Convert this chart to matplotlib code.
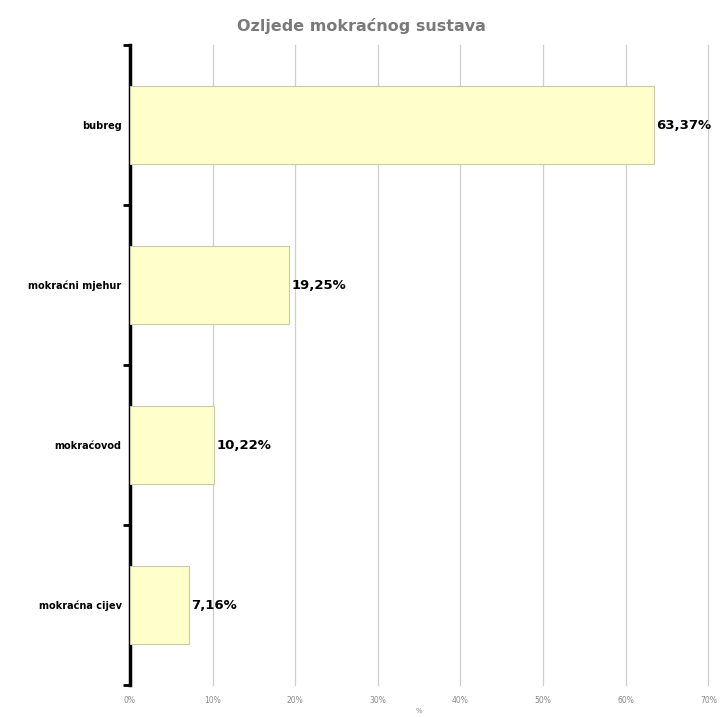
import matplotlib.pyplot as plt
import numpy as np

# podaci
kategorije = ["bubreg", "mokraćni mjehur", "mokraćovod", "mokraćna cijev"]
postotci = [63.37, 19.25, 10.22, 7.16]
oznake = ["63,37%", "19,25%", "10,22%", "7,16%"]
x_ticks = [0, 10, 20, 30, 40, 50, 60, 70]

fig = plt.figure(figsize=(7.22, 7.17), dpi=100)
ax = fig.add_axes([0.180, 0.0446, 0.801, 0.8924])

y = np.arange(len(kategorije))
ax.barh(y, postotci, height=0.49, color="#ffffcc", edgecolor="#c9c9a6",
        linewidth=0.8, zorder=3)

for yi, v, t in zip(y, postotci, oznake):
    ax.text(v + 0.3, yi, t, va="center", ha="left", fontsize=9.5,
            fontweight="bold", color="black", zorder=4)

ax.set_xlim(0, 70)
ax.set_ylim(3.5, -0.5)
ax.set_xticks(x_ticks)
ax.set_xticklabels([f"{t}%" for t in x_ticks], fontsize=5.5, color="#888888")
ax.tick_params(axis="x", length=0, pad=8)
ax.set_xlabel("%", fontsize=5, color="#888888", labelpad=2)

ax.set_yticks(y)
ax.set_yticklabels(kategorije, fontsize=7, fontweight="bold")
ax.tick_params(axis="y", which="major", length=0, pad=6)
ax.set_yticks(np.arange(-0.5, 4.0, 1.0), minor=True)
ax.tick_params(axis="y", which="minor", length=5, width=2, color="black")

ax.grid(axis="x", color="#cfcfcf", linewidth=0.9, zorder=0, clip_on=False)
for s in ["top", "right", "bottom"]:
    ax.spines[s].set_visible(False)
ax.spines["left"].set_linewidth(2.5)

fig.suptitle("Ozljede mokraćnog sustava", y=0.975, fontsize=11.5,
             fontweight="bold", color="#7a7a7a")

plt.savefig("out.png", dpi=100)
